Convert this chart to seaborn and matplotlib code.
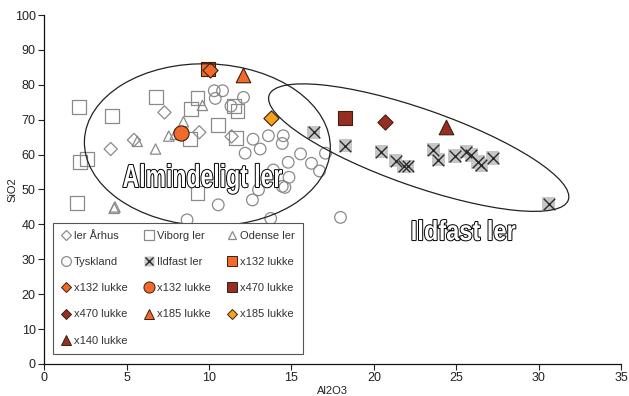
import numpy as np
import pandas as pd
import matplotlib
matplotlib.use("Agg")
import matplotlib.pyplot as plt
import seaborn as sns
from matplotlib.lines import Line2D
from matplotlib.patches import Ellipse
from matplotlib.transforms import ScaledTranslation, Affine2D
import matplotlib.patheffects as pe

# ---------------- data (Al2O3, SiO2) ----------------
aarhus_x = [7.3, 9.41, 11.37, 5.45, 4.04]
aarhus_y = [72.1, 66.4, 65.2, 64.2, 61.6]

viborg_x = [2.1, 4.12, 6.8, 8.9, 9.3, 11.53, 11.73, 10.56, 8.85, 11.63, 2.19, 2.58, 1.99, 9.3]
viborg_y = [73.7, 71.1, 76.5, 73.0, 76.1, 73.9, 72.5, 68.5, 64.5, 64.7, 58.0, 58.8, 46.0, 48.9]

odense_x = [9.6, 8.45, 7.56, 7.95, 5.65, 6.76, 4.25, 4.3]
odense_y = [74.1, 69.4, 65.3, 65.8, 63.8, 61.6, 44.6, 45.0]

tysk_x = [10.32, 10.82, 10.38, 12.09, 11.33, 12.67, 13.6, 14.5, 14.44, 13.1, 12.19, 15.55, 14.8,
          16.21, 17.06, 16.7, 13.9, 14.85, 14.44, 14.6, 13.0, 12.63, 10.56, 8.67, 13.74, 17.97]
tysk_y = [78.3, 78.3, 76.1, 76.4, 73.9, 64.4, 65.4, 65.4, 63.2, 61.6, 60.4, 60.2, 57.8,
          57.5, 60.4, 55.3, 55.6, 53.5, 50.9, 50.6, 49.9, 47.0, 45.6, 41.3, 41.7, 42.0]

ildfast_x = [16.35, 18.27, 20.44, 21.32, 21.79, 22.05, 23.6, 23.9, 24.9, 25.6, 25.9, 26.3, 26.5, 27.2, 30.6]
ildfast_y = [66.4, 62.6, 60.8, 58.3, 56.7, 56.7, 61.4, 58.5, 59.6, 60.8, 59.9, 57.9, 57.0, 59.0, 45.9]

x132_sq_x, x132_sq_y = [9.92], [84.5]
x132_di_x, x132_di_y = [10.04], [84.2]
x132_ci_x, x132_ci_y = [8.29], [66.1]
x470_sq_x, x470_sq_y = [18.27], [70.6]
x470_di_x, x470_di_y = [20.64], [69.4]
x185_tr_x, x185_tr_y = [12.09], [82.8]
x185_di_x, x185_di_y = [13.74], [70.6]
x140_tr_x, x140_tr_y = [24.36], [68.0]

x_ticks = [0, 5, 10, 15, 20, 25, 30, 35]
y_ticks = [0, 10, 20, 30, 40, 50, 60, 70, 80, 90, 100]

# ---------------- style ----------------
sns.set_style("white")
plt.rcParams["font.family"] = ["Liberation Sans", "DejaVu Sans"]

GRAY = "#8a8a8a"
ORANGE = "#F26A2A"
DRED = "#952F24"
YORANGE = "#F7A21E"
EDGE = "#3a2010"

fig = plt.figure(figsize=(6.29, 3.96), dpi=100)
ax = fig.add_axes([0.070, 0.081, 0.918, 0.881])

def hollow(x, y, marker, s):
    sns.scatterplot(x=x, y=y, marker=marker, s=s, color=GRAY, facecolor="none",
                    edgecolor=GRAY, linewidth=0.9, ax=ax, zorder=3)

def solid(x, y, marker, s, c):
    sns.scatterplot(x=x, y=y, marker=marker, s=s, color=c, edgecolor=EDGE,
                    linewidth=0.8, ax=ax, zorder=5)

hollow(aarhus_x, aarhus_y, "D", 45)
hollow(viborg_x, viborg_y, "s", 100)
hollow(odense_x, odense_y, "^", 55)
hollow(tysk_x, tysk_y, "o", 70)

sns.scatterplot(x=ildfast_x, y=ildfast_y, marker="s", s=90, color="#c6c6c6",
                edgecolor="none", linewidth=0, ax=ax, zorder=3)
sns.scatterplot(x=ildfast_x, y=ildfast_y, marker="x", s=70, color="#2a2a2a",
                linewidth=1.0, ax=ax, zorder=4)

solid(x132_sq_x, x132_sq_y, "s", 90, ORANGE)
solid(x132_di_x, x132_di_y, "D", 60, ORANGE)
solid(x132_ci_x, x132_ci_y, "o", 120, ORANGE)
solid(x470_sq_x, x470_sq_y, "s", 90, DRED)
solid(x470_di_x, x470_di_y, "D", 60, DRED)
solid(x185_tr_x, x185_tr_y, "^", 110, ORANGE)
solid(x185_di_x, x185_di_y, "D", 60, YORANGE)
solid(x140_tr_x, x140_tr_y, "^", 110, DRED)

ax.set_xlim(0, 35)
ax.set_ylim(0, 100)
ax.set_xticks(x_ticks)
ax.set_yticks(y_ticks)
ax.tick_params(axis="both", direction="out", length=4, width=0.8, labelsize=9,
               colors="#222222", bottom=True, left=True, pad=2)
for side in ["top", "right"]:
    ax.spines[side].set_visible(False)
for side in ["left", "bottom"]:
    ax.spines[side].set_color("#111111")
    ax.spines[side].set_linewidth(0.9)
ax.set_xlabel("Al2O3", fontsize=8, color="#222222", labelpad=1)
ax.set_ylabel("SiO2", fontsize=8, color="#222222", labelpad=-2)

# ---------------- ellipses (sizes in inches, centres in data) ----------------
def ellipse(cx, cy, w_in, h_in, ang):
    trans = fig.dpi_scale_trans + ScaledTranslation(cx, cy, ax.transData)
    e = Ellipse((0, 0), w_in, h_in, angle=ang, transform=trans, facecolor="none",
                edgecolor="#222222", linewidth=0.9, zorder=6)
    ax.add_patch(e)

ellipse(9.9, 62.8, 2.46, 1.62, -2)
ellipse(22.71, 62.0, 3.17, 0.77, -19.3)

# ---------------- outlined, condensed labels ----------------
class CondensedOutline(pe.AbstractPathEffect):
    def __init__(self, sx=0.65, lw=1.4, fg="black"):
        super().__init__()
        self.sx, self.lw, self.fg = sx, lw, fg

    def draw_path(self, renderer, gc, tpath, affine, rgbFace=None):
        bb = tpath.get_extents(affine)
        cx = 0.5 * (bb.x0 + bb.x1)
        aff = affine + Affine2D().translate(-cx, 0).scale(self.sx, 1).translate(cx, 0)
        gc0 = renderer.new_gc()
        gc0.copy_properties(gc)
        gc0.set_linewidth(self.lw)
        gc0.set_foreground(self.fg)
        renderer.draw_path(gc0, tpath, aff, rgbFace)
        gc0.restore()
        renderer.draw_path(gc, tpath, aff, rgbFace)

ax.text(9.6, 53.0, "Almindeligt ler", fontsize=23, fontweight="bold",
        color="white", ha="center", va="center",
        path_effects=[CondensedOutline(sx=0.72)], zorder=7)
ax.text(25.4, 37.5, "Ildfast ler", fontsize=20, fontweight="bold",
        color="white", ha="center", va="center",
        path_effects=[CondensedOutline(sx=0.85)], zorder=7)

# ---------------- legend ----------------
def h_hollow(m, ms):
    return Line2D([], [], linestyle="none", marker=m, markersize=ms,
                  markerfacecolor="none", markeredgecolor=GRAY, markeredgewidth=0.9)

def h_solid(m, ms, c):
    return Line2D([], [], linestyle="none", marker=m, markersize=ms,
                  markerfacecolor=c, markeredgecolor=EDGE, markeredgewidth=0.7)

h_ild = (Line2D([], [], linestyle="none", marker="s", markersize=7,
                markerfacecolor="#c6c6c6", markeredgecolor="none"),
         Line2D([], [], linestyle="none", marker="x", markersize=6,
                markeredgecolor="#2a2a2a", markeredgewidth=1.0))

handles = [
    h_hollow("D", 5), h_hollow("o", 7), h_solid("D", 5, ORANGE), h_solid("D", 5, DRED), h_solid("^", 7, DRED),
    h_hollow("s", 7), h_ild, h_solid("o", 8, ORANGE), h_solid("^", 7, ORANGE),
    h_hollow("^", 6), h_solid("s", 7, ORANGE), h_solid("s", 7, DRED), h_solid("D", 5, YORANGE),
]
labels = [
    "ler Århus", "Tyskland", "x132 lukke", "x470 lukke", "x140 lukke",
    "Viborg ler", "Ildfast ler", "x132 lukke", "x185 lukke",
    "Odense ler", "x132 lukke", "x470 lukke", "x185 lukke",
]
leg = ax.legend(handles, labels, ncol=3, loc="lower left",
                bbox_to_anchor=(0.0155, 0.0287), fontsize=8, frameon=True,
                fancybox=False, edgecolor="#555555", framealpha=1,
                handlelength=0.8, handletextpad=0.3, columnspacing=1.55,
                labelspacing=1.45, borderpad=0.75, borderaxespad=0)
leg.get_frame().set_linewidth(0.8)
for t in leg.get_texts():
    t.set_color("#333333")
leg.set_zorder(8)

fig.savefig("out.png", dpi=100)
